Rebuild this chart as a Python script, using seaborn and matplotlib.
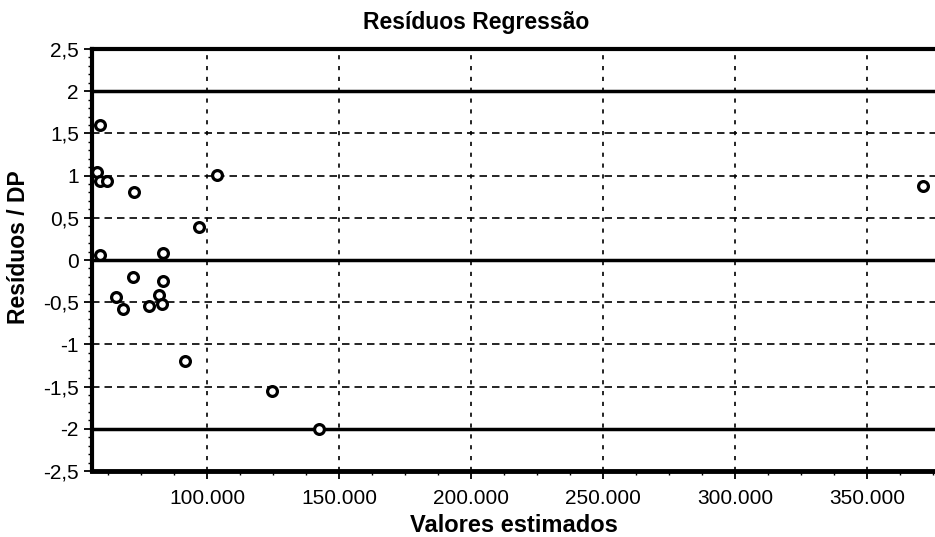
import numpy as np
import pandas as pd
import seaborn as sns
import matplotlib.pyplot as plt
from matplotlib.ticker import MultipleLocator

# valores
estimados = [59500, 58200, 59500, 62000, 72500, 103700, 97000, 59500, 83200,
             71900, 65400, 68300, 78000, 81800, 82800, 83200, 91700, 124500,
             142400, 371300]
residuos = [1.60, 1.04, 0.94, 0.94, 0.81, 1.01, 0.39, 0.06, 0.08,
            -0.20, -0.44, -0.58, -0.545, -0.42, -0.52, -0.25, -1.20, -1.55,
            -2.00, 0.88]

x_ticks = [100000, 150000, 200000, 250000, 300000, 350000]
x_labels = ['100.000', '150.000', '200.000', '250.000', '300.000', '350.000']
y_ticks = [-2.5, -2, -1.5, -1, -0.5, 0, 0.5, 1, 1.5, 2, 2.5]
y_labels = ['-2,5', '-2', '-1,5', '-1', '-0,5', '0', '0,5', '1', '1,5', '2', '2,5']
limites = [-2, 0, 2]

df = pd.DataFrame({'Valores estimados': estimados, 'Resíduos / DP': residuos})

sns.set_style('white')
plt.rcParams['font.family'] = ['Liberation Sans', 'DejaVu Sans']
plt.rcParams.update({'text.color': 'black', 'axes.labelcolor': 'black',
                     'xtick.color': 'black', 'ytick.color': 'black'})

fig = plt.figure(figsize=(9.35, 5.37), dpi=100)
ax = fig.add_axes([0.0984, 0.1229, 0.9016, 0.7858])

# grade tracejada
for v in x_ticks:
    ax.axvline(v, color='black', lw=1.2, ls=(0, (2.5, 4)), zorder=1)
for v in y_ticks:
    if v not in limites and abs(v) != 2.5:
        ax.axhline(v, color='black', lw=1.2, ls=(0, (4.5, 3)), zorder=1)
for v in limites:
    ax.axhline(v, color='black', lw=2.5, zorder=2)

sns.scatterplot(data=df, x='Valores estimados', y='Resíduos / DP', ax=ax,
                marker='o', s=50, facecolor='white', edgecolor='black',
                linewidth=2.3, zorder=3)

ax.set_xlim(56400, 375800)
ax.set_ylim(-2.5, 2.5)
ax.set_xticks(x_ticks)
ax.set_xticklabels(x_labels)
ax.set_yticks(y_ticks)
ax.set_yticklabels(y_labels)
ax.xaxis.set_minor_locator(MultipleLocator(12500))
ax.yaxis.set_minor_locator(MultipleLocator(0.1))
ax.tick_params(axis='both', which='major', direction='out', length=6, width=1.3,
               labelsize=15, color='black', labelcolor='black',
               bottom=True, left=True)
ax.tick_params(axis='x', which='major', pad=7)
ax.tick_params(axis='both', which='minor', direction='out', length=3, width=1,
               color='black', bottom=True, left=True)

for side in ['top', 'bottom', 'left']:
    ax.spines[side].set_color('black')
ax.spines['top'].set_linewidth(3)
ax.spines['bottom'].set_linewidth(3.5)
ax.spines['left'].set_linewidth(3)
ax.spines['right'].set_visible(False)

ax.set_xlabel('Valores estimados', fontsize=17, fontweight='bold', labelpad=4,
              color='black')
ax.set_ylabel('Resíduos / DP', fontsize=16.5, fontweight='bold', color='black')
ax.yaxis.set_label_coords(-0.073, 0.53)
fig.suptitle('Resíduos Regressão', x=0.509, y=0.98, fontsize=16.5,
             fontweight='bold', color='black')

fig.savefig('out.png', dpi=100)
